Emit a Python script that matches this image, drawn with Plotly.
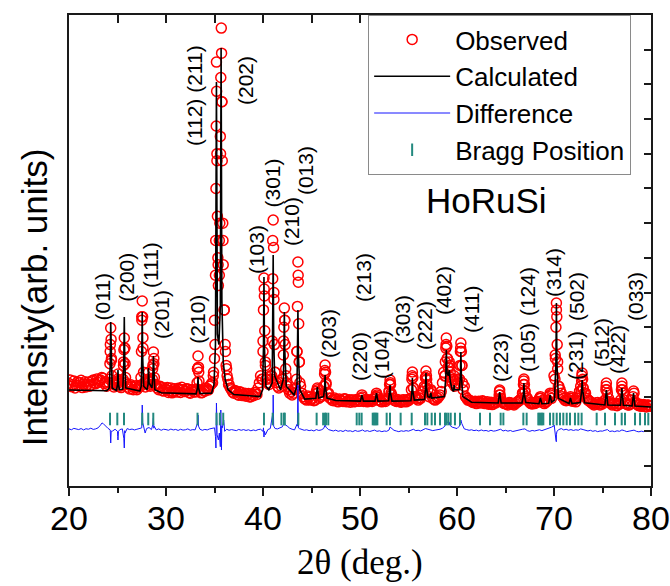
import plotly.graph_objects as go

# ---------------- data ----------------
# observed scan, background part: two interleaved 0.25-deg grids
obs_grid_start = 20.0
obs_grid2_start = 20.125
obs_grid_step = 0.25
obs_grid_int = [
    2380, 2290, 2450, 2330, 2310, 2470, 2360, 2280, 2420, 2330, 2480, 2370,
    2410, 2480, 2530, 2420, 2350, 3300, 2400, 2330, 2500, 2300, 2330, 3400,
    2350, 2220, 2300, 2260, 2200, 2320, 4300, 2400, 2380, 2330, 2350, 3100,
    2330, 2200, 2280, 2160, 2200, 2120, 2250, 2150, 2170, 2240, 2120, 2200,
    2150, 2220, 2100, 2190, 2130, 2800, 2200, 2120, 2160, 2230, 2300, 2400,
    4200, 8800, 6500, 10500, 4500, 2800, 2350, 2200, 2100, 2150, 2040, 2120,
    2060, 2010, 2090, 2000, 2030, 2120, 2250, 2600, 3600, 2900, 2400, 2600,
    6500, 2700, 2300, 2400, 2500, 4200, 2300, 2100, 2050, 2200, 3300, 3000,
    2100, 1950, 1900, 1980, 1920, 1880, 2150, 1950, 2000, 2300, 2400, 2100,
    1950, 1880, 1920, 1850, 1900, 1860, 1930, 1870, 1840, 1900, 1860, 1910,
    1870, 1990, 1880, 1850, 1900, 1860, 1960, 2050, 1900, 1850, 1880, 1920,
    2150, 2050, 1900, 1860, 1880, 1840, 1910, 1850, 1880, 1950, 2250, 2000,
    1900, 1950, 2150, 2550, 2200, 2100, 1950, 1900, 1950, 2050, 2400, 2600,
    3100, 2900, 2400, 2300, 2500, 2500, 2900, 2300, 1950, 1900, 1860, 1840,
    1800, 1870, 1820, 1860, 1810, 1780, 1840, 1790, 1820, 1900, 1950, 1830,
    1800, 1760, 1820, 1780, 1800, 1850, 1900, 2100, 2150, 1950, 1830, 1790,
    1800, 1830, 1950, 1850, 1800, 1860, 2000, 1950, 2600, 4500, 2300, 2100,
    1950, 1880, 1900, 1950, 1880, 1850, 2000, 2300, 2250, 2100, 1900, 1850,
    1800, 1780, 1830, 1760, 1790, 1900, 2100, 1850, 1760, 1800, 1740, 1780,
    2300, 1900, 1780, 1760, 1900, 2100, 1800, 1740, 1720, 1770, 1700, 1750,
    1720,
]
obs_grid2_int = [
    2480, 2340, 2250, 2420, 2400, 2260, 2430, 2350, 2300, 2450, 2390, 2510,
    2460, 2550, 2380, 2300, 2400, 3100, 2280, 2400, 2400, 2260, 3000, 2400,
    2270, 2340, 2200, 2310, 2250, 2300, 3700, 2280, 2500, 2300, 2800, 2350,
    2250, 2300, 2180, 2240, 2260, 2180, 2110, 2230, 2130, 2210, 2270, 2150,
    2230, 2120, 2200, 2140, 2210, 2700, 2110, 2180, 2250, 2190, 2350, 2600,
    6500, 5800, 9000, 6500, 3300, 2500, 2250, 2130, 2180, 2060, 2140, 2030,
    2100, 2050, 1990, 2070, 2120, 2060, 2400, 2500, 5100, 2500, 2350, 2500,
    5000, 2400, 2250, 2300, 3600, 2600, 2200, 2150, 2100, 2250, 5500, 2300,
    2000, 1930, 2020, 1900, 1960, 1900, 2200, 2000, 2050, 2750, 2100, 1960,
    1900, 1960, 1870, 1930, 1880, 1940, 1850, 1910, 1900, 1850, 1920, 1870,
    1950, 1860, 1920, 1900, 1880, 1920, 2000, 1900, 1870, 1930, 1860, 1950,
    2400, 1950, 1880, 1920, 1850, 1900, 1860, 1920, 1930, 2600, 2000, 1950,
    1960, 2050, 2300, 2500, 2000, 2150, 1920, 1980, 2000, 2150, 2700, 3500,
    2850, 2550, 2500, 2350, 2400, 3400, 2200, 2000, 1900, 1880, 1830, 1870,
    1840, 1820, 1880, 1800, 1850, 1800, 1770, 1830, 1860, 2150, 1850, 1800,
    1780, 1830, 1800, 1760, 1830, 1880, 1950, 2450, 2000, 1880, 1800, 1820,
    1840, 1860, 1950, 1900, 1830, 1900, 2050, 2100, 3200, 3000, 2200, 2000,
    1900, 1930, 1950, 1870, 1900, 1950, 2150, 2600, 2100, 1950, 1880, 1820,
    1760, 1820, 1790, 1810, 1850, 2300, 1950, 1800, 1790, 1750, 1800, 1900,
    2100, 1800, 1760, 1790, 2000, 1850, 1760, 1780, 1750, 1720, 1760, 1730,
]
# observed points on the Bragg peaks
obs_peak_2theta = [
    24.17, 24.22, 24.26, 24.30, 24.34, 24.38, 24.43,
    25.00, 25.05, 25.10,
    25.57, 25.62, 25.66, 25.70, 25.74, 25.78, 25.83,
    27.42, 27.47, 27.51, 27.55, 27.59, 27.63, 27.68,
    28.15, 28.20, 28.25,
    28.60, 28.65, 28.70, 28.75, 28.80,
    33.20, 33.25, 33.30, 33.35, 33.40,
    34.80, 34.90, 35.00, 35.05, 35.10, 35.15, 35.18, 35.20, 35.22, 35.25,
    35.30, 35.35, 35.40, 35.50, 35.55, 35.60, 35.65, 35.70, 35.73, 35.77,
    35.80, 35.85, 35.90, 36.00, 36.10, 36.20, 36.30, 36.45,
    39.95, 40.00, 40.05, 40.10, 40.14, 40.18, 40.24, 40.30,
    40.90, 40.95, 41.00, 41.05, 41.09, 41.13, 41.18, 41.25,
    42.05, 42.10, 42.15, 42.20, 42.24, 42.28, 42.34, 42.40,
    43.45, 43.50, 43.55, 43.60, 43.64, 43.68, 43.74, 43.80,
    45.55, 45.60, 45.65,
    46.30, 46.35, 46.40, 46.45, 46.50,
    50.20,
    51.65, 51.70, 51.75,
    53.00, 53.05, 53.10, 53.15, 53.20,
    55.30, 55.35, 55.40, 55.45, 55.50,
    56.70, 56.75, 56.80, 56.85, 56.90,
    57.30,
    58.75, 58.80, 58.85, 58.90, 58.95, 59.00, 59.10, 59.20, 59.30, 59.45,
    59.60, 59.70, 59.80,
    60.25, 60.30, 60.35, 60.40, 60.45, 60.50, 60.56,
    64.35, 64.40, 64.45,
    66.80, 66.85, 66.90, 66.95, 67.00,
    68.60, 69.60,
    70.10, 70.15, 70.20, 70.25, 70.29, 70.33, 70.38, 70.45,
    71.70,
    72.80, 72.85, 72.90, 72.95, 73.00,
    75.35, 75.40, 75.45,
    76.95, 77.00, 77.05,
    78.20,
]
obs_peak_int = [
    2500, 2950, 3500, 3977, 3650, 3050, 2600,
    2450, 2650, 2450,
    2500, 2900, 3350, 3689, 3400, 2950, 2550,
    2550, 3300, 4200, 4755, 4300, 3400, 2700,
    2450, 2700, 2450,
    2500, 2900, 3285, 2950, 2550,
    2400, 2800, 3170, 2850, 2450,
    2400, 2700, 3100, 3500, 5500, 8000, 9800, 11643, 10800, 9000,
    7200, 6000, 5200, 5500, 7000, 9500, 11200, 12623, 11900, 10500,
    8800, 7000, 5800, 4500, 3500, 2900, 2600, 2350,
    2500, 3300, 4500, 5418, 4900, 3900, 3000, 2500,
    2600, 3600, 5400, 7090, 6300, 4800, 3500, 2700,
    2500, 3200, 4000, 4553, 4200, 3500, 2800, 2400,
    2500, 3300, 4600, 5879, 5300, 4100, 3000, 2400,
    2100, 2250, 2100,
    2300, 2650, 2911, 2700, 2350,
    2050,
    2000, 2100, 2000,
    2150, 2350, 2479, 2350, 2100,
    2200, 2500, 2709, 2550, 2250,
    2250, 2550, 2738, 2600, 2350,
    2200,
    2600, 3000, 3400, 3689, 3450, 3100, 2850, 3000, 2700, 2450,
    2500, 2600, 2350,
    2500, 2900, 3300, 3545, 3300, 2900, 2400,
    2050, 2190, 2050,
    2100, 2350, 2507, 2350, 2150,
    2000, 2100,
    2500, 3100, 4000, 4698, 4300, 3500, 2800, 2300,
    2000,
    2150, 2450, 2680, 2500, 2250,
    2200, 2392, 2200,
    2200, 2392, 2200,
    2161,
]

# calculated profile
calc_2theta = [
    20.0, 22.0, 23.9, 24.15, 24.25, 24.3, 24.35, 24.45, 24.9, 25.0, 25.05, 25.1,
    25.2, 25.55, 25.65, 25.7, 25.75, 25.85, 27.3, 27.45, 27.5, 27.55, 27.6, 27.7,
    28.05, 28.15, 28.2, 28.25, 28.55, 28.65, 28.7, 28.75, 28.85, 29.5, 33.1,
    33.25, 33.3, 33.35, 33.5, 34.7, 34.95, 35.1, 35.2, 35.3, 35.45, 35.6, 35.68,
    35.76, 35.9, 36.1, 36.4, 37.0, 39.7, 39.95, 40.05, 40.1, 40.15, 40.3, 40.6,
    40.95, 41.0, 41.05, 41.1, 41.2, 41.8, 42.1, 42.15, 42.2, 42.25, 42.4, 43.2,
    43.5, 43.55, 43.6, 43.65, 43.8, 44.3, 45.45, 45.6, 45.75, 46.25, 46.35, 46.4,
    46.45, 46.6, 47.5, 50.05, 50.2, 50.35, 51.55, 51.7, 51.85, 52.95, 53.05,
    53.1, 53.15, 53.3, 55.25, 55.35, 55.4, 55.45, 55.6, 56.65, 56.75, 56.8,
    56.85, 57.0, 57.2, 57.3, 57.4, 58.7, 58.85, 58.9, 58.97, 59.1, 59.2, 59.3,
    59.5, 59.65, 59.7, 59.75, 60.25, 60.35, 60.4, 60.45, 60.6, 61.5, 64.25,
    64.4, 64.55, 66.7, 66.85, 66.9, 66.95, 67.1, 68.45, 68.6, 68.75, 69.45,
    69.6, 69.75, 70.05, 70.2, 70.25, 70.3, 70.45, 71.55, 71.7, 71.85, 72.7,
    72.85, 72.9, 72.95, 73.15, 75.25, 75.4, 75.55, 76.85, 77.0, 77.15, 78.05,
    78.2, 78.35, 80.0,
]
calc_int = [
    2190, 2176, 2168, 2250, 2900, 4150, 2900, 2250, 2180, 2350, 2767, 2350,
    2200, 2220, 3000, 4294, 3000, 2250, 2160, 2300, 3100, 4438, 3100, 2300,
    2200, 2350, 2824, 2400, 2250, 2550, 3170, 2550, 2200, 2110, 2080,
    2250, 2565, 2250, 2090, 2100, 2350, 3500, 11067, 3800, 3500, 4600, 12047,
    4800, 3000, 2500, 2200, 2060, 2000, 2200, 3400, 5447, 3400, 2300, 2200,
    2400, 3500, 6081, 3700, 2600, 2200, 2500, 3200, 4438, 3300, 2300, 2050,
    2300, 3200, 4496, 3200, 2200, 1930, 1950, 2277, 1960, 2000, 2250, 2623,
    2250, 1960, 1890, 1870, 2046, 1870, 1870, 2104, 1870, 1880, 2100,
    2334, 2100, 1870, 1880, 2150, 2536, 2150, 1900, 1920, 2200, 2680,
    2250, 2000, 1980, 2104, 1960, 2000, 2600, 3343, 2700, 2600, 2767, 2450,
    2200, 2150, 2334, 2200, 2200, 2600, 3285, 2600, 2000, 1840, 1815,
    2133, 1815, 1820, 2050, 2392, 2050, 1830, 1795, 1960, 1795, 1810,
    2046, 1840, 1900, 3000, 4698, 3000, 1950, 1800, 1960, 1800, 1830,
    2150, 2479, 2200, 1820, 1760, 2190, 1760, 1750, 2248, 1750, 1730,
    2104, 1730, 1700,
]

# difference curve (observed - calculated, offset), 0.25 deg grid + peak points
diff_grid_int = [
    1070, 1045, 1085, 1060, 1050, 1080, 1040, 1075, 1060, 1090, 1055, 1070,
    1100, 1180, 1230, 1150, 1090, 1040, 1010, 1060, 1000, 1050, 1070, 1020,
    1080, 1050, 1065, 1040, 1060, 1075, 1100, 1000, 1080, 1110, 1050, 1090,
    1040, 1070, 1030, 1060, 1050, 1030, 1065, 1040, 1055, 1025, 1060, 1035,
    1045, 1070, 1030, 1050, 1040, 1200, 1060, 1030, 1055, 1040, 1070, 1080,
    1100, 1020, 950, 1150, 1180, 1060, 1030, 1050, 1040, 1020, 1055, 1030,
    1050, 1025, 1045, 1015, 1040, 1020, 1050, 1060, 1000, 900, 1050, 1080,
    1500, 1080, 1070, 1100, 1130, 1200, 1150, 1090, 1060, 1040, 1200, 1080,
    1050, 1030, 1045, 1020, 1035, 1010, 1050, 1025, 1040, 1080, 1120, 1050,
    1030, 1010, 1035, 1000, 1020, 995, 1030, 1005, 1015, 990, 1025, 1000,
    1010, 1040, 1000, 1020, 995, 1020, 1035, 1000, 1015, 990, 1010, 1000,
    1040, 1080, 1030, 1010, 990, 1015, 1000, 1020, 1005, 1030, 1060, 1020,
    1030, 1010, 1050, 1080, 1060, 1040, 1020, 1035, 1040, 1060, 1090, 1150,
    1250, 1180, 1120, 1100, 1080, 1150, 1220, 1070, 1050, 1030, 1045, 1020,
    1035, 1010, 1040, 1015, 1025, 1000, 1030, 1005, 1015, 1040, 1060, 1010,
    1030, 1005, 1025, 995, 1015, 1030, 1040, 1060, 1070, 1020, 1000, 1025,
    1010, 1030, 1045, 1020, 1040, 1060, 1080, 1120, 1160, 900, 1050, 1080,
    1040, 1060, 1030, 1050, 1025, 1045, 1030, 1070, 1050, 1035, 1010, 1030,
    1000, 1020, 990, 1010, 1005, 1030, 1050, 995, 1010, 990, 1015, 1000,
    1040, 1020, 990, 1005, 1015, 1035, 1000, 985, 1005, 990, 1010, 995,
    1000,
]
diff_peak_2theta = [
    23.4, 24.27, 24.3, 24.35, 25.02, 25.05, 25.1, 25.65, 25.7, 25.77,
    27.52, 27.55, 27.6, 27.85, 28.65, 28.7, 28.77, 33.27, 33.3, 33.35,
    35.1, 35.15, 35.2, 35.27, 35.4, 35.6, 35.65, 35.72, 35.8, 35.95, 36.05,
    40.05, 40.1, 40.15, 41.02, 41.05, 41.1, 42.2, 43.55, 43.6, 43.65,
    46.4, 53.1, 58.9, 59.2, 60.4, 70.02, 70.2, 70.24, 70.3,
]
diff_peak_int = [
    1240, 900, 663, 1000, 850, 750, 1000, 800, 519, 950,
    1300, 1758, 1250, 951, 1200, 1383, 1150, 1250, 1470, 1150,
    850, 519, 1816, 900, 750, 556, 1614, 461, 1100, 1326, 1000,
    1100, 836, 1000, 1200, 2046, 1150, 1268, 1150, 2334, 1100,
    1180, 1124, 1326, 1268, 1326, 1180, 750, 700, 1000,
]

# Bragg reflection positions
bragg_2theta = [
    24.23, 24.98, 25.67, 27.55, 28.17, 28.69, 33.25, 35.21, 35.55, 35.90,
    40.10, 41.00, 41.90, 42.16, 42.25, 43.64, 45.53, 46.20, 46.39, 46.50,
    46.73, 49.66, 49.93, 50.17, 51.31, 51.43, 51.55, 51.67, 51.79, 52.75,
    53.09, 54.19, 55.33, 56.70, 56.94, 57.39, 57.73, 58.25, 58.76, 58.90,
    59.10, 59.35, 59.79, 60.31, 62.37, 63.40, 64.50, 64.78, 66.84, 67.18,
    68.38, 68.50, 68.63, 68.76, 68.90, 69.59, 69.93, 70.28, 70.62, 70.96,
    71.31, 71.65, 72.16, 72.51, 72.85, 74.40, 75.26, 76.29, 76.98, 77.32,
    78.35, 78.87, 79.38, 79.72,
]
bragg_level = 1355

# Miller-index labels
hkl_text = ["(011)", "(200)", "(111)", "(201)", "(210)", "(112) (211)", "(202)",
            "(103)", "(301)", "(210)", "(013)", "(203)", "(220)", "(213)",
            "(104)", "(303)", "(222)", "(402)", "(411)", "(223)", "(105)",
            "(124)", "(314)", "(231)", "(502)", "(512)", "(422)", "(033)"]
hkl_2theta = [23.47, 25.85, 28.35, 29.48, 33.16, 32.89, 38.14,
              39.28, 41.03, 42.89, 44.33, 46.70, 49.90, 50.31,
              52.16, 54.33, 56.60, 58.56, 61.44, 64.43, 67.22,
              67.22, 69.90, 72.16, 72.27, 74.85, 76.49, 78.35]
hkl_int = [4879, 5447, 5793, 4381, 4237, 10663, 11125,
           6225, 8171, 7032, 8502, 3833, 3141, 5418,
           3228, 4208, 4035, 5044, 4525, 3141, 3401,
           5015, 5562, 3199, 4871, 3545, 3372, 4899]

sample_name = "HoRuSi"
sample_pos = (62.99, 7666)
x_ticks = [20, 30, 40, 50, 60, 70, 80]
x_range = [20, 80]
y_range = [-576, 13000]

# ---------------- assemble series ----------------
obs_grid_2theta = [obs_grid_start + obs_grid_step * i for i in range(len(obs_grid_int))]
obs_grid2_2theta = [obs_grid2_start + obs_grid_step * i for i in range(len(obs_grid2_int))]
obs_pairs = sorted(zip(obs_grid_2theta + obs_grid2_2theta + obs_peak_2theta,
                       obs_grid_int + obs_grid2_int + obs_peak_int))
obs_x = [p[0] for p in obs_pairs]
obs_y = [p[1] for p in obs_pairs]

diff_grid_2theta = [obs_grid_start + obs_grid_step * i for i in range(len(diff_grid_int))]
diff_pairs = sorted(zip(diff_grid_2theta + diff_peak_2theta, diff_grid_int + diff_peak_int))
diff_x = [p[0] for p in diff_pairs]
diff_y = [p[1] for p in diff_pairs]

FONT = "Liberation Sans, Arial, sans-serif"
AX = "#1a1a1a"
TEAL = "#23897f"

fig = go.Figure()
fig.add_trace(go.Scatter(
    x=obs_x, y=obs_y, mode="markers", name="Observed",
    marker=dict(symbol="circle-open", size=10, color="#ff0000",
                line=dict(width=1.5, color="#ff0000")),
))
fig.add_trace(go.Scatter(
    x=calc_2theta, y=calc_int, mode="lines", name="Calculated",
    line=dict(color="#000000", width=1.6),
))
fig.add_trace(go.Scatter(
    x=diff_x, y=diff_y, mode="lines", name="Difference",
    line=dict(color="#1515ff", width=1),
))
fig.add_trace(go.Scatter(
    x=bragg_2theta, y=[bragg_level] * len(bragg_2theta), mode="markers",
    name="Bragg Position",
    marker=dict(symbol="line-ns", size=9, color=TEAL,
                line=dict(width=2, color=TEAL)),
))
# helper trace for the mirrored (top/right) axes
fig.add_trace(go.Scatter(x=[], y=[], xaxis="x2", yaxis="y2", showlegend=False,
                         hoverinfo="skip"))

for t, xv, yv in zip(hkl_text, hkl_2theta, hkl_int):
    fig.add_annotation(x=xv, y=yv, text=t, textangle=-90, showarrow=False,
                       font=dict(family=FONT, size=21, color="#000"),
                       xanchor="center", yanchor="middle")

fig.add_annotation(x=sample_pos[0], y=sample_pos[1], text=sample_name,
                   showarrow=False, font=dict(family=FONT, size=35, color="#000"),
                   xanchor="center", yanchor="middle")

fig.add_annotation(xref="paper", yref="paper", x=0.5, y=-0.162,
                   text="2θ (deg.)", showarrow=False,
                   font=dict(family="Liberation Serif, Times New Roman, serif",
                             size=35, color="#000"),
                   xanchor="center", yanchor="middle")
fig.add_annotation(xref="paper", yref="paper", x=-0.060, y=0.401,
                   text="Intensity(arb. units)", textangle=-90, showarrow=False,
                   font=dict(family=FONT, size=35, color="#000"),
                   xanchor="center", yanchor="middle")

fig.update_layout(
    width=670, height=586,
    margin=dict(l=69, r=19, t=15, b=100, autoexpand=False),
    paper_bgcolor="white", plot_bgcolor="white",
    showlegend=True,
    legend=dict(x=0.514, y=1.0, xanchor="left", yanchor="top",
                bgcolor="white", bordercolor="#8a8a8a", borderwidth=1,
                font=dict(family=FONT, size=26, color="#000"),
                itemwidth=76, tracegroupgap=0),
    xaxis=dict(range=x_range, tickmode="array", tickvals=x_ticks,
               ticks="outside", ticklen=8, tickwidth=1.5, tickcolor=AX,
               minor=dict(dtick=5, ticks="outside", ticklen=5, tickwidth=1.5,
                          tickcolor=AX),
               showline=True, linecolor=AX, linewidth=1.5, mirror=False,
               showgrid=False, zeroline=False, automargin=False,
               ticklabelstandoff=-7,
               tickfont=dict(family=FONT, size=34, color="#000")),
    yaxis=dict(range=y_range, showticklabels=False, ticks="",
               showline=True, linecolor=AX, linewidth=1.5, mirror=False,
               showgrid=False, zeroline=False, automargin=False),
    xaxis2=dict(range=x_range, overlaying="x", side="top", anchor="y2",
                tickmode="linear", tick0=20, dtick=5, ticks="inside",
                ticklen=8, tickwidth=1.5, tickcolor=AX, automargin=False,
                showticklabels=False, showline=True, linecolor=AX,
                linewidth=1.5, showgrid=False, zeroline=False),
    yaxis2=dict(range=y_range, overlaying="y", side="right", anchor="x2",
                tickmode="linear", tick0=0, dtick=1000, ticks="inside",
                ticklen=7, tickwidth=1.5, tickcolor=AX, automargin=False,
                showticklabels=False, showline=True, linecolor=AX,
                linewidth=1.5, showgrid=False, zeroline=False),
)

fig.write_html(
    "out.html",
    config={"displayModeBar": False},
    post_script="document.body.style.margin='0';document.body.style.padding='0';",
)
